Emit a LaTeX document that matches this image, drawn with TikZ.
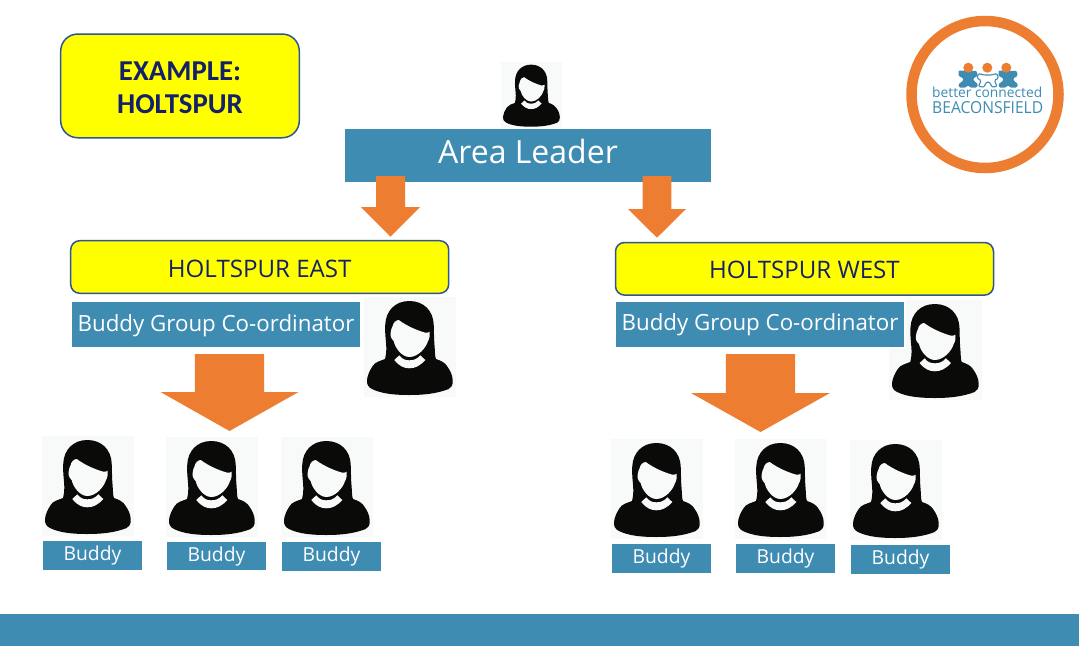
\documentclass[tikz,border=0pt]{standalone}
\usepackage{fontspec}
\setmainfont{Open Sans}
\newfontfamily\carlitofont{Carlito}
\usetikzlibrary{calc}
\definecolor{bcblue}{HTML}{3F8CB3}
\definecolor{bcorange}{HTML}{ED7D31}
\definecolor{bcyellow}{HTML}{FFFF00}
\definecolor{bcedge}{HTML}{2F5597}
\definecolor{bcnavy}{HTML}{14206A}
\definecolor{bcink}{HTML}{0A0A08}
\definecolor{bctile}{HTML}{F8F9F9}
\tikzset{
  x=1pt,y=-1pt,
  bluebox/.style={fill=bcblue,text=white,inner sep=0pt,outer sep=0pt,text depth=0pt},
  yellowbox/.style={fill=bcyellow,draw=bcedge,line width=1.5pt,text=bcnavy,inner sep=0pt,outer sep=0pt,rounded corners=9pt,text depth=0pt},
  arrowfill/.style={fill=bcorange},
  buddybox/.style={bluebox,minimum width=99pt,font=\fontsize{19.3}{22}\selectfont,text height=10pt},
  coordbox/.style={bluebox,minimum width=288pt,minimum height=45pt,font=\fontsize{22.3}{26}\selectfont},
  regionbox/.style={yellowbox,minimum width=378pt,minimum height=52.6pt,font=\fontsize{24.1}{26}\selectfont,text height=20pt},
}
% tile corner x, y, width, height
\newcommand{\personpic}[4]{%
  \begin{scope}[shift={(#1,#2)},x=#3/92*1pt,y=-#4/100*1pt]
    \fill[bctile] (0,0) rectangle (92,100);
    \fill[bcink] (45.3,4) .. controls (60,4) and (69,14) .. (69.7,27)
      .. controls (70,36) and (70,44) .. (70.7,50.7)
      .. controls (71,56) and (71,60) .. (72,62)
      .. controls (78,64) and (81,66) .. (83,69)
      .. controls (86,73) and (89,79) .. (88.7,84)
      .. controls (89,88) and (87,91) .. (84.7,92)
      .. controls (72,97) and (58,98) .. (45.3,98)
      .. controls (32,98) and (18,97) .. (8,92)
      .. controls (4,90) and (2.6,87) .. (3,83)
      .. controls (3.5,78) and (6,73) .. (8.7,69)
      .. controls (11,65) and (16,64) .. (21,62)
      .. controls (22,58) and (22.3,55) .. (22.3,50.7)
      .. controls (22,42) and (20.5,35) .. (21.3,27)
      .. controls (22,14) and (31,4) .. (45.3,4) -- cycle;
    \fill[bctile] (34.7,23) .. controls (43,29) and (52,33) .. (61.3,35.7)
      .. controls (63,36) and (64.5,35.5) .. (65.7,34.7)
      .. controls (66,38) and (65.5,42) .. (64,44)
      .. controls (62,51) and (54,60) .. (45.3,60)
      .. controls (38,60) and (31,51) .. (29.7,44)
      .. controls (27,42) and (26,38) .. (26.7,35.7)
      .. controls (27,33) and (27.5,31) .. (28.7,29)
      .. controls (29,26) and (32,23) .. (34.7,23) -- cycle;
    \fill[bctile] (30.3,63) -- (35.3,58.3) .. controls (38,62) and (41,63.3) .. (45.3,63.3)
      .. controls (50,63.3) and (53,62) .. (56.3,58.3) -- (61.3,63)
      .. controls (56,69) and (51,71.3) .. (45.3,71.3)
      .. controls (40,71.3) and (35,69) .. (30.3,63) -- cycle;
  \end{scope}}
% from, to, shaft half width, head half width, shaft length
\newcommand{\blockarrow}[5]{%
  \fill[arrowfill] let \p1=(#1),\p2=(#2) in
    (\x1-#3pt,\y1) -- (\x1+#3pt,\y1) -- (\x1+#3pt,\y1-#5pt) -- (\x1+#4pt,\y1-#5pt)
    -- (\x2,\y2) -- (\x1-#4pt,\y1-#5pt) -- (\x1-#3pt,\y1-#5pt) -- cycle;}
\newcommand{\logofigure}[1]{%
  \fill[bcblue,rounded corners=1.2pt,shift={(#1,0)}] (958.5,70.5) -- (977,71) -- (977.5,76) -- (973,78.5) -- (974,81) -- (978,84) -- (977,87.5) -- (970,87.5) -- (968,85) -- (966,87.5) -- (959,87.5) -- (958.5,84) -- (963,81) -- (963.5,78.5) -- (958.5,76) -- cycle;}
\begin{document}
\begin{tikzpicture}
\useasboundingbox (0,0) rectangle (1079,646);
\fill[white] (0,0) rectangle (1079,646);
\node[bluebox,minimum width=1079pt,minimum height=32pt] (bar) at (539.5,630) {};

% title
\node[yellowbox,rounded corners=17pt,minimum width=238.6pt,minimum height=103.7pt,align=center,
  font=\carlitofont\bfseries\fontsize{28.8}{33.7}\selectfont] (example) at (180,85.9) {\smash{\raisebox{-11pt}{EXAMPLE:}}\\\smash{\raisebox{-11pt}{HOLTSPUR}}};

% logo
\draw[bcorange,line width=10.5pt] (985,94.5) circle (73.5);
\logofigure{0}
\logofigure{40}
\draw[bcblue,fill=white,line width=1.1pt,rounded corners=1.2pt] (978.5,73.5) -- (984,75) -- (991,75) -- (997,73.5) -- (998.5,78) -- (994.5,80.5) -- (997,86.5) -- (991.5,87) -- (991,84) -- (988,81.5) -- (985,84) -- (984.5,87) -- (978.5,86.5) -- (981,80.5) -- (977,78) -- cycle;
\fill[bcorange] (968.3,67.7) circle (5) (987.3,67.7) circle (5) (1006.3,67.7) circle (5);
\node[anchor=base west,inner sep=0pt,text=bcblue] (logoa) at (932,97) {\resizebox{110pt}{!}{better connected}};
\node[anchor=base west,inner sep=0pt,text=bcblue] (logob) at (932,113) {\resizebox{111pt}{12pt}{BEACONSFIELD}};

% area leader
\personpic{501}{62}{61}{66}
\node[bluebox,minimum width=366pt,minimum height=53pt,font=\fontsize{32}{36}\selectfont,text height=16pt] (area) at (528,155.5) {Area Leader};
\coordinate (a1s) at (390.5,176); \coordinate (a1t) at (390.5,236.7);
\coordinate (a2s) at (657,176);   \coordinate (a2t) at (657,237.7);
\blockarrow{a1s}{a1t}{14.5}{29.5}{31}
\blockarrow{a2s}{a2t}{14.3}{29}{33}

% east
\node[regionbox] (east) at (259.7,267) {HOLTSPUR EAST};
\personpic{364}{297}{92}{100}
\node[coordbox,text height=13pt] (coordeast) at (216,324.5) {Buddy Group Co-ordinator};
\coordinate (a3s) at (229.5,354); \coordinate (a3t) at (229.5,431);
\blockarrow{a3s}{a3t}{34.7}{69}{38}
\personpic{42}{436}{92}{100}
\personpic{166}{437}{92}{100}
\personpic{281}{437}{92}{100}
\node[buddybox,minimum height=29pt] (be1) at (92.5,555.5) {Buddy};
\node[buddybox,minimum height=28pt] (be2) at (216.5,556) {Buddy};
\node[buddybox,minimum height=29pt] (be3) at (331.5,556.5) {Buddy};

% west
\node[regionbox] (west) at (804.5,268.8) {HOLTSPUR WEST};
\personpic{889}{300}{93}{100}
\fill[white] (614,300) rectangle (906,349);
\node[coordbox,text height=11pt] (coordwest) at (760,324.5) {Buddy Group Co-ordinator};
\coordinate (a4s) at (760.5,354); \coordinate (a4t) at (760.5,432);
\blockarrow{a4s}{a4t}{34.7}{69.5}{39}
\personpic{611}{439}{92}{100}
\personpic{735}{439}{92}{100}
\personpic{850}{440}{92}{100}
\node[buddybox,minimum height=29pt] (bw1) at (661.5,558.5) {Buddy};
\node[buddybox,minimum height=29pt] (bw2) at (785.5,558.5) {Buddy};
\node[buddybox,minimum height=29pt] (bw3) at (900.5,559.5) {Buddy};
\end{tikzpicture}
\end{document}
